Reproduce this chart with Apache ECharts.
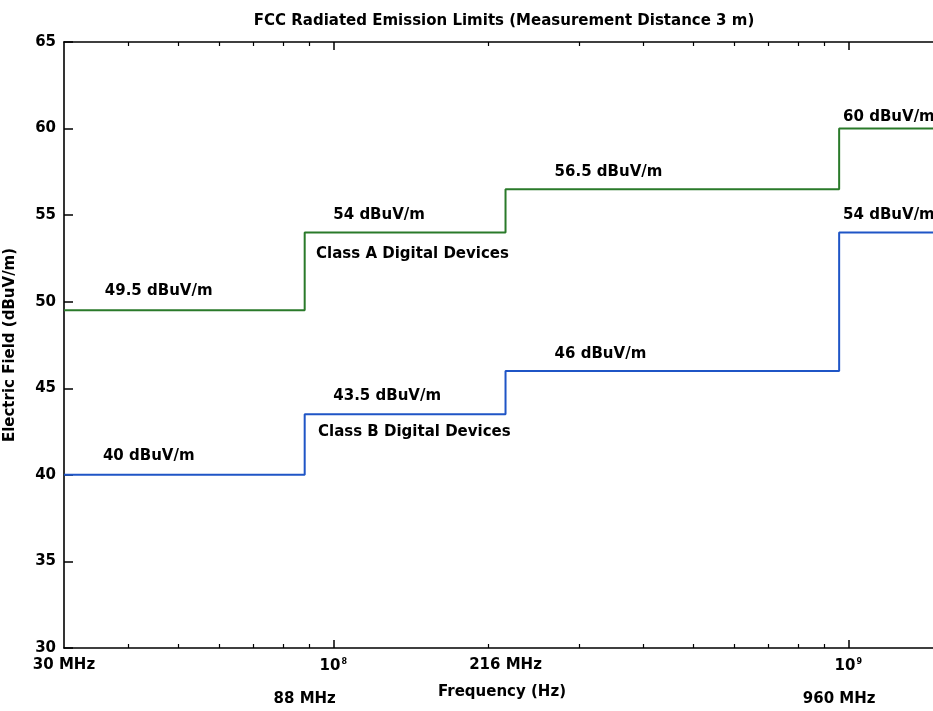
<!DOCTYPE html>
<html>
<head>
<meta charset="utf-8">
<title>FCC Radiated Emission Limits</title>
<script src="https://cdn.jsdelivr.net/npm/echarts@6/dist/echarts.min.js"></script>
<style>
  html, body { margin: 0; padding: 0; background: #fff; }
  #chart { width: 933px; height: 711px; }
</style>
</head>
<body>
<div id="chart"></div>
<script>
// step limits: each level holds from its frequency up to the next one
const stepFreqs = [30e6, 88e6, 216e6, 960e6, 3e9];
const classA = [49.5, 54, 56.5, 60, 60];
const classB = [40, 43.5, 46, 54, 54];

// x tick labels (two rows)
const labelFreqsTop = [30e6, 1e8, 216e6, 1e9];
const labelTextsTop = ["30 MHz", "10{sup|8}", "216 MHz", "10{sup|9}"];
const labelFreqsLow = [88e6, 960e6];
const labelTextsLow = ["88 MHz", "960 MHz"];
const majorTicks = [1e8, 1e9];
const minorTicks = [4e7, 5e7, 6e7, 7e7, 8e7, 9e7, 2e8, 3e8, 4e8, 5e8, 6e8, 7e8, 8e8, 9e8, 2e9];

// annotations: anchor frequency, anchor level, text
const annoFreq = [3.6e7, 1.0e8, 9.26e7, 2.69e8, 9.77e8, 9.77e8, 2.69e8, 1.0e8, 9.34e7, 3.57e7];
const annoLevel = [50.6, 55.0, 52.75, 57.5, 60.66, 55.0, 46.97, 44.55, 42.47, 41.09];
const annoText = ["49.5 dBuV/m", "54 dBuV/m", "Class A Digital Devices", "56.5 dBuV/m", "60 dBuV/m",
  "54 dBuV/m", "46 dBuV/m", "43.5 dBuV/m", "Class B Digital Devices", "40 dBuV/m"];

const font = "DejaVu Sans";
const ink = "#000";

function pick(freqs, texts) {
  return function (v) {
    let best = 0;
    freqs.forEach((f, i) => {
      if (Math.abs(Math.log10(f / v)) < Math.abs(Math.log10(freqs[best] / v))) best = i;
    });
    return texts[best];
  };
}

function xAxisBase(position) {
  return {
    type: "log",
    logBase: 10,
    min: 30e6,
    max: 3e9,
    position: position,
    splitLine: { show: false },
    minorTick: { show: false },
    minorSplitLine: { show: false },
    axisLine: { show: false, lineStyle: { color: "#000", width: 1.6 } },
    axisTick: { show: false },
    axisLabel: { show: false },
  };
}

const xMajorBottom = xAxisBase("bottom");
xMajorBottom.axisLine.show = true;
xMajorBottom.axisTick = { show: true, inside: true, length: 8, customValues: majorTicks, lineStyle: { color: "#000", width: 1.5 } };
xMajorBottom.axisLabel = {
  show: true, customValues: labelFreqsTop, formatter: pick(labelFreqsTop, labelTextsTop),
  margin: 10, color: ink, fontFamily: font, fontSize: 15, fontWeight: "bold",
  rich: { sup: { fontSize: 8, fontFamily: font, color: ink, verticalAlign: "top", padding: [0, 0, 9, 1] } },
};

const xMinorBottom = xAxisBase("bottom");
xMinorBottom.axisTick = { show: true, inside: true, length: 4, customValues: minorTicks, lineStyle: { color: "#000", width: 1.2 } };
xMinorBottom.axisLabel = {
  show: true, customValues: labelFreqsLow, formatter: pick(labelFreqsLow, labelTextsLow),
  margin: 44, color: ink, fontFamily: font, fontSize: 15, fontWeight: "bold",
};

const xMajorTop = xAxisBase("top");
xMajorTop.axisLine.show = true;
xMajorTop.axisTick = { show: true, inside: true, length: 8, customValues: majorTicks, lineStyle: { color: "#000", width: 1.5 } };

const xMinorTop = xAxisBase("top");
xMinorTop.axisTick = { show: true, inside: true, length: 4, customValues: minorTicks, lineStyle: { color: "#000", width: 1.2 } };

const chart = echarts.init(document.getElementById("chart"));
chart.setOption({
  backgroundColor: "#fff",
  animation: false,
  title: [
    {
      text: "FCC Radiated Emission Limits (Measurement Distance 3 m)",
      left: 499, top: 9, textAlign: "center",
      textStyle: { fontFamily: font, fontSize: 15, fontWeight: "bold", color: ink },
    },
    {
      text: "Frequency (Hz)",
      left: 497, top: 680, textAlign: "center",
      textStyle: { fontFamily: font, fontSize: 15, fontWeight: "bold", color: ink },
    },
  ],
  grid: { left: 64, top: 42, width: 1030, height: 606, outerBoundsMode: "none" },
  xAxis: [xMajorBottom, xMinorBottom, xMajorTop, xMinorTop],
  yAxis: {
    type: "value",
    min: 30,
    max: 65,
    interval: 5,
    name: "Electric Field (dBuV/m)",
    nameLocation: "middle",
    nameGap: 46,
    nameTextStyle: { fontFamily: font, fontSize: 15, fontWeight: "bold", color: ink },
    splitLine: { show: false },
    axisLine: { show: true, lineStyle: { color: "#000", width: 1.6 } },
    axisTick: { show: true, inside: true, length: 9, lineStyle: { color: "#000", width: 1.5 } },
    axisLabel: { margin: 8, color: ink, fontFamily: font, fontSize: 15, fontWeight: "bold" },
  },
  series: [
    {
      name: "Class A",
      type: "line",
      step: "end",
      symbol: "none",
      data: stepFreqs.map((f, i) => [f, classA[i]]),
      lineStyle: { color: "#2a7a2a", width: 2 },
    },
    {
      name: "Class B",
      type: "line",
      step: "end",
      symbol: "none",
      data: stepFreqs.map((f, i) => [f, classB[i]]),
      lineStyle: { color: "#1f55c6", width: 2 },
    },
    {
      name: "notes",
      type: "scatter",
      symbolSize: 0,
      silent: true,
      itemStyle: { opacity: 1 },
      data: annoText.map((t, i) => ({ value: [annoFreq[i], annoLevel[i]], name: t })),
      label: {
        show: true,
        position: [0, 0],
        align: "left",
        verticalAlign: "middle",
        formatter: (p) => p.name,
        fontFamily: font,
        fontSize: 15,
        fontWeight: "bold",
        color: ink,
        opacity: 1,
      },
    },
  ],
});
</script>
</body>
</html>
